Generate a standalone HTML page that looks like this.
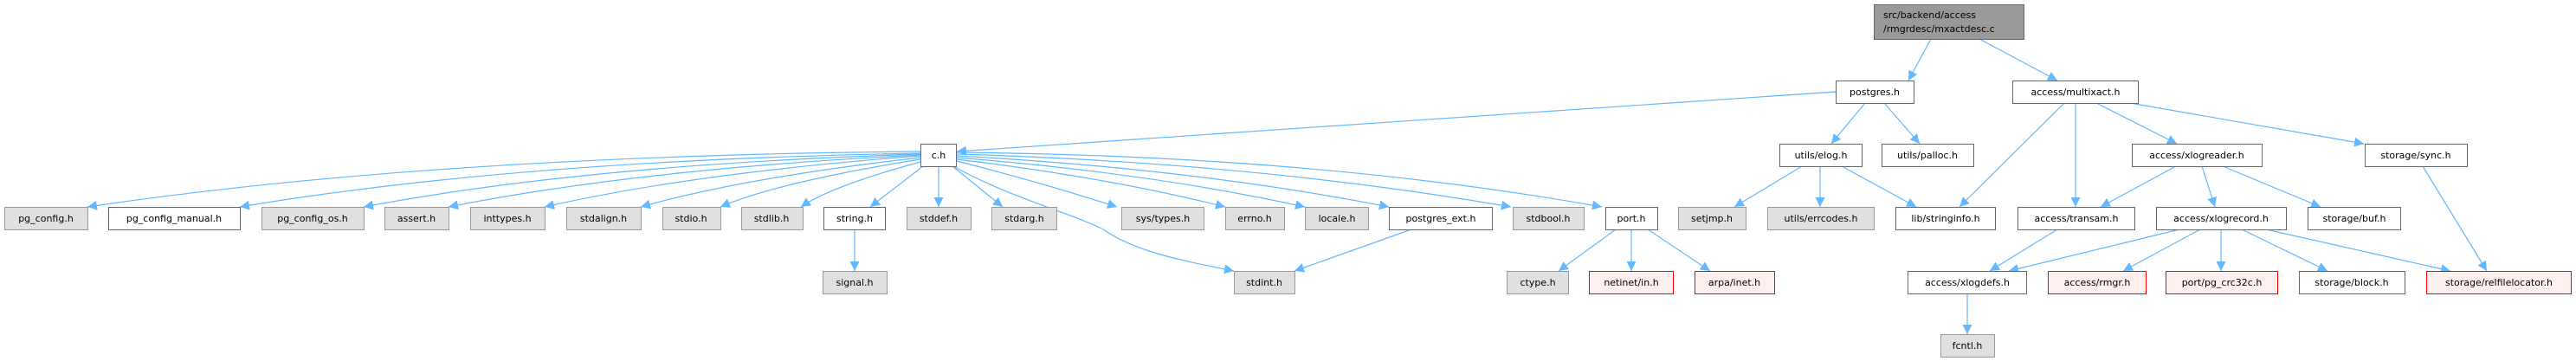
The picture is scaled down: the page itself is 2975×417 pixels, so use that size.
<!DOCTYPE html>
<html><head><meta charset="utf-8"><style>
html,body{margin:0;padding:0;background:#fff;width:2975px;height:417px;overflow:hidden}
svg text{font-family:"DejaVu Sans","Liberation Sans",sans-serif;font-size:11px;fill:#000}
</style></head><body>
<svg width="2975" height="417" viewBox="0 0 2975 417" xmlns="http://www.w3.org/2000/svg">
<defs><marker id="a" viewBox="0 0 10 10" refX="10" refY="5" markerWidth="11" markerHeight="11" markerUnits="userSpaceOnUse" orient="auto"><path d="M0,0 L10,5 L0,10 z" fill="#63b8ff"/></marker></defs>
<g fill="none" stroke="#63b8ff" stroke-width="1.2" marker-end="url(#a)">
<path d="M2230,45 L2204,93"/>
<path d="M2286,45 L2376,93"/>
<path d="M2120,106 L1105,175"/>
<path d="M2154,119 L2115,166"/>
<path d="M2176,119 L2217,166"/>
<path d="M2384,119 L2263,239"/>
<path d="M2397,119 L2397,239"/>
<path d="M2421,119 L2514,166"/>
<path d="M2460,119 L2730,166"/>
<path d="M2081,192 L2003,239"/>
<path d="M2102,192 L2102,239"/>
<path d="M2127,192 L2213,239"/>
<path d="M2513,192 L2426,239"/>
<path d="M2543,192 L2558,239"/>
<path d="M2567,192 L2680,239"/>
<path d="M2798,192 L2872,313"/>
<path d="M2376,265 L2298,313"/>
<path d="M2517,265 L2320,313"/>
<path d="M2541,265 L2452,313"/>
<path d="M2565,265 L2565,313"/>
<path d="M2589,265 L2688,313"/>
<path d="M2617,265 L2830,313"/>
<path d="M2272,339 L2272,386"/>
<path d="M1866,265 L1800,313"/>
<path d="M1884,265 L1884,313"/>
<path d="M1903,265 L1975,313"/>
<path d="M1630,265 L1495,313"/>
<path d="M987,265 L987,313"/>
<path d="M1101,192 C1170,230 1235,245 1274,265 C1310,290 1360,300 1425,313"/>
<path d="M1063,175 Q500,180 101,239"/>
<path d="M1063,177 Q600,185 277,239"/>
<path d="M1063,178 Q680,190 420,239"/>
<path d="M1063,179 Q740,195 518,239"/>
<path d="M1063,180 Q800,200 629,239"/>
<path d="M1063,182 Q860,205 740,239"/>
<path d="M1063,184 Q900,210 832,239"/>
<path d="M1063,187 Q960,215 925,239"/>
<path d="M1066,192 L1005,239"/>
<path d="M1084,192 L1084,239"/>
<path d="M1100,192 L1158,239"/>
<path d="M1105,186 Q1200,210 1290,239"/>
<path d="M1105,184 Q1280,205 1415,239"/>
<path d="M1105,182 Q1330,200 1507,239"/>
<path d="M1105,180 Q1380,195 1604,239"/>
<path d="M1105,178 Q1450,188 1745,239"/>
<path d="M1105,176 Q1520,180 1850,239"/>
</g>
<g stroke-width="1">
<rect x="2164.5" y="5.5" width="173" height="40" fill="#999" stroke="#666"/>
<text x="2175" y="21">src/backend/access</text><text x="2175" y="37">/rmgrdesc/mxactdesc.c</text>
</g>
<g font-size="11" text-anchor="middle">
<g fill="#fff" stroke="#666">
<rect x="2120.5" y="93.5" width="90" height="26"/>
<rect x="2324.5" y="93.5" width="145" height="26"/>
<rect x="1063.5" y="166.5" width="41" height="26"/>
<rect x="2055.5" y="166.5" width="95" height="26"/>
<rect x="2173.5" y="166.5" width="106" height="26"/>
<rect x="2462.5" y="166.5" width="150" height="26"/>
<rect x="2731.5" y="166.5" width="118" height="26"/>
<rect x="125.5" y="239.5" width="152" height="26"/>
<rect x="951.5" y="239.5" width="71" height="26"/>
<rect x="1604.5" y="239.5" width="119" height="26"/>
<rect x="1854.5" y="239.5" width="60" height="26"/>
<rect x="2189.5" y="239.5" width="115" height="26"/>
<rect x="2330.5" y="239.5" width="135" height="26"/>
<rect x="2490.5" y="239.5" width="150" height="26"/>
<rect x="2665.5" y="239.5" width="107" height="26"/>
<rect x="2203.5" y="313.5" width="137" height="26"/>
<rect x="2655.5" y="313.5" width="122" height="26"/>
</g>
<g fill="#e0e0e0" stroke="#999">
<rect x="5.5" y="239.5" width="96" height="26"/>
<rect x="302.5" y="239.5" width="118" height="26"/>
<rect x="444.5" y="239.5" width="74" height="26"/>
<rect x="543.5" y="239.5" width="86" height="26"/>
<rect x="654.5" y="239.5" width="86" height="26"/>
<rect x="765.5" y="239.5" width="67" height="26"/>
<rect x="856.5" y="239.5" width="71" height="26"/>
<rect x="1047.5" y="239.5" width="74" height="26"/>
<rect x="1145.5" y="239.5" width="75" height="26"/>
<rect x="1295.5" y="239.5" width="95" height="26"/>
<rect x="1415.5" y="239.5" width="68" height="26"/>
<rect x="1507.5" y="239.5" width="73" height="26"/>
<rect x="1747.5" y="239.5" width="82" height="26"/>
<rect x="1938.5" y="239.5" width="78" height="26"/>
<rect x="2041.5" y="239.5" width="123" height="26"/>
<rect x="950.5" y="313.5" width="74" height="26"/>
<rect x="1425.5" y="313.5" width="70" height="26"/>
<rect x="1740.5" y="313.5" width="71" height="26"/>
<rect x="2241.5" y="386.5" width="62" height="26"/>
</g>
<g fill="#fff0f0" stroke="#ff0000">
<rect x="1835.5" y="313.5" width="97" height="26"/>
<rect x="1957.5" y="313.5" width="92" height="26"/>
<rect x="2365.5" y="313.5" width="113" height="26"/>
<rect x="2501.5" y="313.5" width="129" height="26"/>
<rect x="2802.5" y="313.5" width="167" height="26"/>
</g>
<text x="2165" y="110">postgres.h</text>
<text x="2397" y="110">access/multixact.h</text>
<text x="1084" y="183">c.h</text>
<text x="2103" y="183">utils/elog.h</text>
<text x="2226" y="183">utils/palloc.h</text>
<text x="2537" y="183">access/xlogreader.h</text>
<text x="2790" y="183">storage/sync.h</text>
<text x="53" y="256">pg_config.h</text>
<text x="201" y="256">pg_config_manual.h</text>
<text x="361" y="256">pg_config_os.h</text>
<text x="481" y="256">assert.h</text>
<text x="586" y="256">inttypes.h</text>
<text x="697" y="256">stdalign.h</text>
<text x="798" y="256">stdio.h</text>
<text x="891" y="256">stdlib.h</text>
<text x="987" y="256">string.h</text>
<text x="1084" y="256">stddef.h</text>
<text x="1183" y="256">stdarg.h</text>
<text x="1343" y="256">sys/types.h</text>
<text x="1449" y="256">errno.h</text>
<text x="1544" y="256">locale.h</text>
<text x="1664" y="256">postgres_ext.h</text>
<text x="1788" y="256">stdbool.h</text>
<text x="1884" y="256">port.h</text>
<text x="1977" y="256">setjmp.h</text>
<text x="2103" y="256">utils/errcodes.h</text>
<text x="2247" y="256">lib/stringinfo.h</text>
<text x="2398" y="256">access/transam.h</text>
<text x="2565" y="256">access/xlogrecord.h</text>
<text x="2719" y="256">storage/buf.h</text>
<text x="987" y="330">signal.h</text>
<text x="1460" y="330">stdint.h</text>
<text x="1776" y="330">ctype.h</text>
<text x="1884" y="330">netinet/in.h</text>
<text x="2003" y="330">arpa/inet.h</text>
<text x="2272" y="330">access/xlogdefs.h</text>
<text x="2422" y="330">access/rmgr.h</text>
<text x="2566" y="330">port/pg_crc32c.h</text>
<text x="2716" y="330">storage/block.h</text>
<text x="2886" y="330">storage/relfilelocator.h</text>
<text x="2272" y="403">fcntl.h</text>
</g>
</svg>
</body></html>
